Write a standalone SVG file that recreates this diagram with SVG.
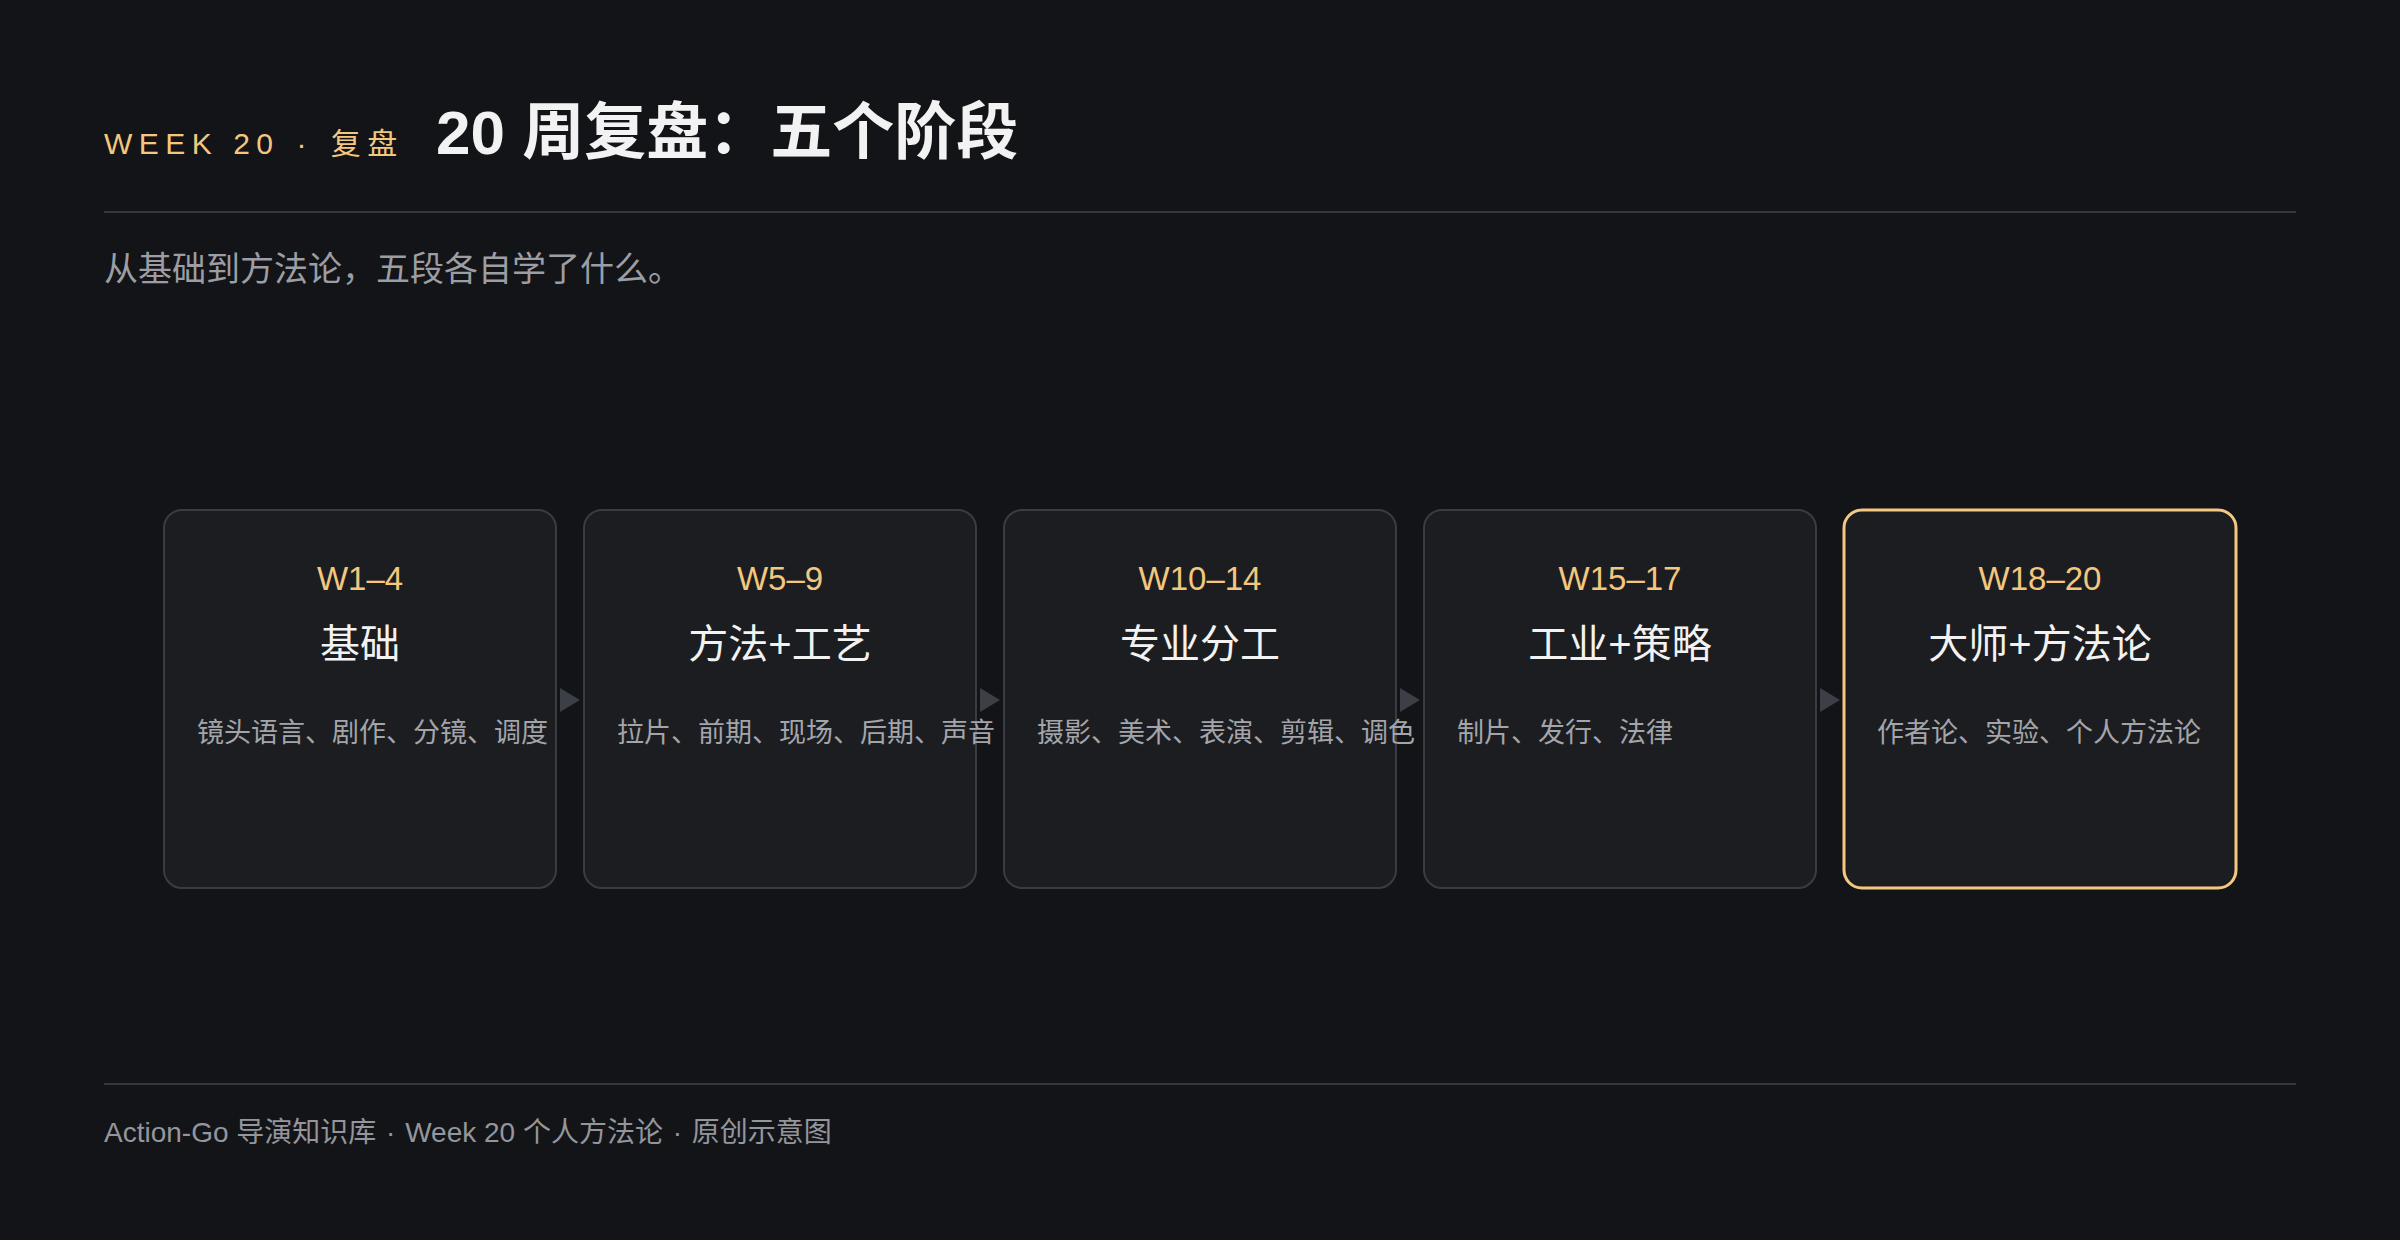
<svg xmlns="http://www.w3.org/2000/svg" width="2400" height="1240" viewBox="0 0 2400 1240">
  <defs>
    <style>
      text { font-family: "Liberation Sans", "Noto Sans CJK SC", sans-serif; }
      .eyebrow { font-size: 30px; fill: #f3c77e; letter-spacing: 6.5px; }
      .title { font-size: 62px; font-weight: 700; fill: #f2f2f2; }
      .sub { font-size: 34px; fill: #9c9ea4; }
      .rule { stroke: #35373d; stroke-width: 2; }
      .card { fill: #1c1d21; stroke: #3a3c42; stroke-width: 2; }
      .card.active { stroke: #f5c882; stroke-width: 3; }
      .wk { font-size: 33px; fill: #f3c77e; text-anchor: middle; }
      .name { font-size: 40px; fill: #f2f2f2; text-anchor: middle; }
      .desc { font-size: 27px; fill: #a3a5ab; }
      .arrow { fill: #3c3f46; }
      .foot { font-size: 28px; fill: #94969c; }
    </style>
  </defs>
  <rect x="0" y="0" width="2400" height="1240" fill="#131418"/>

  <g id="header">
    <text class="eyebrow" x="104" y="154">WEEK 20 <tspan dx="2">·</tspan><tspan dx="3"> 复盘</tspan></text>
    <text class="title" x="436" y="154">20 周复盘：五个阶段</text>
    <line class="rule" x1="104" y1="212" x2="2296" y2="212"/>
    <text class="sub" x="104" y="281">从基础到方法论，五段各自学了什么。</text>
  </g>

  <g id="connectors">
    <polygon class="arrow" points="560,688 580,700 560,712"/>
    <polygon class="arrow" points="980,688 1000,700 980,712"/>
    <polygon class="arrow" points="1400,688 1420,700 1400,712"/>
    <polygon class="arrow" points="1820,688 1840,700 1820,712"/>
  </g>

  <g id="stage1">
    <rect class="card" x="164" y="510" width="392" height="378" rx="18"/>
    <text class="wk" x="360" y="590">W1–4</text>
    <text class="name" x="360" y="658">基础</text>
    <text class="desc" x="197" y="742">镜头语言、剧作、分镜、调度</text>
  </g>
  <g id="stage2">
    <rect class="card" x="584" y="510" width="392" height="378" rx="18"/>
    <text class="wk" x="780" y="590">W5–9</text>
    <text class="name" x="780" y="658">方法+工艺</text>
    <text class="desc" x="617" y="742">拉片、前期、现场、后期、声音</text>
  </g>
  <g id="stage3">
    <rect class="card" x="1004" y="510" width="392" height="378" rx="18"/>
    <text class="wk" x="1200" y="590">W10–14</text>
    <text class="name" x="1200" y="658">专业分工</text>
    <text class="desc" x="1037" y="742">摄影、美术、表演、剪辑、调色</text>
  </g>
  <g id="stage4">
    <rect class="card" x="1424" y="510" width="392" height="378" rx="18"/>
    <text class="wk" x="1620" y="590">W15–17</text>
    <text class="name" x="1620" y="658">工业+策略</text>
    <text class="desc" x="1457" y="742">制片、发行、法律</text>
  </g>
  <g id="stage5">
    <rect class="card active" x="1844" y="510" width="392" height="378" rx="18"/>
    <text class="wk" x="2040" y="590">W18–20</text>
    <text class="name" x="2040" y="658">大师+方法论</text>
    <text class="desc" x="1877" y="742">作者论、实验、个人方法论</text>
  </g>

  <g id="footer">
    <line class="rule" x1="104" y1="1084" x2="2296" y2="1084"/>
    <text class="foot" x="104" y="1142">Action-Go 导演知识库 <tspan dx="2">·</tspan><tspan dx="2"> Week 20 个人方法论 </tspan><tspan dx="2">·</tspan><tspan dx="2"> 原创示意图</tspan></text>
  </g>
</svg>
